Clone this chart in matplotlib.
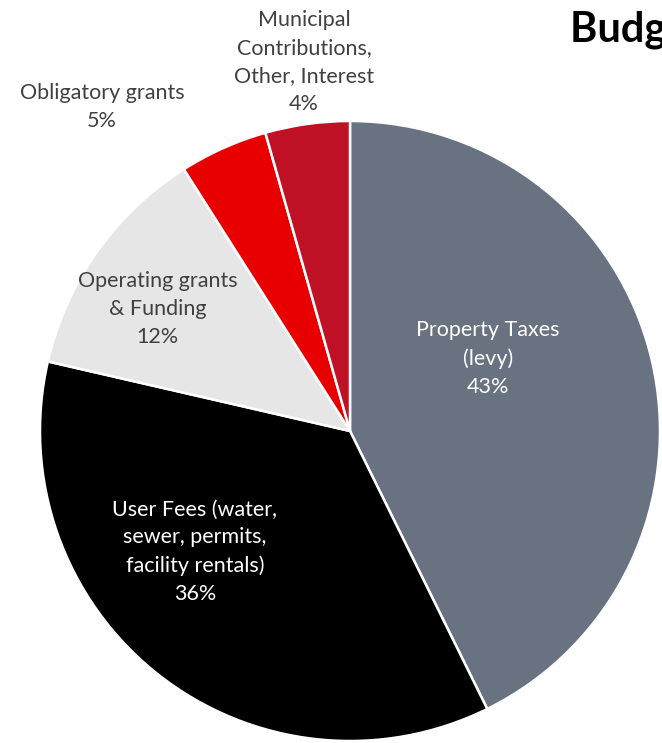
import matplotlib
matplotlib.use("Agg")
import matplotlib.pyplot as plt

# revenue shares, clockwise from 12 o'clock
sources = [
    "Property Taxes\n(levy)",
    "User Fees (water,\nsewer, permits,\nfacility rentals)",
    "Operating grants\n& Funding",
    "Obligatory grants",
    "Municipal\nContributions,\nOther, Interest",
]
shares = [42.7, 35.9, 12.4, 4.6, 4.4]
colors = ["#687280", "#000000", "#E6E6E6", "#E80000", "#C01026"]
text_colors = ["white", "white", "#404040", "#404040", "#404040"]
# label centres, in units of the pie radius
label_pos = [(0.445, 0.235), (-0.50, -0.39), (-0.62, 0.394), (-0.80, 1.045), (-0.148, 1.19)]

plt.rcParams["font.family"] = ["Lato", "DejaVu Sans"]

fig = plt.figure(figsize=(6.62, 7.43), dpi=100)
ax = fig.add_axes([0, 0, 1, 1])

wedges, _ = ax.pie(
    shares,
    colors=colors,
    startangle=90,
    counterclock=False,
    radius=1.0,
    wedgeprops=dict(edgecolor="white", linewidth=1.8),
)

for name, val, (lx, ly), tc in zip(sources, shares, label_pos, text_colors):
    ax.text(lx, ly, "{}\n{:.0f}%".format(name, val), ha="center", va="center",
            fontsize=15.5, color=tc, linespacing=1.5)

ax.set_aspect("auto")
ax.set_xlim(-350 / 310, 312 / 310)
ax.set_ylim(-312 / 310, 431 / 310)
ax.axis("off")

fig.text(570 / 662, 1 - 30 / 743, "Budget Revenue", ha="left", va="center",
         fontsize=30, fontweight="bold", color="black")

fig.savefig("out.png", dpi=100)
